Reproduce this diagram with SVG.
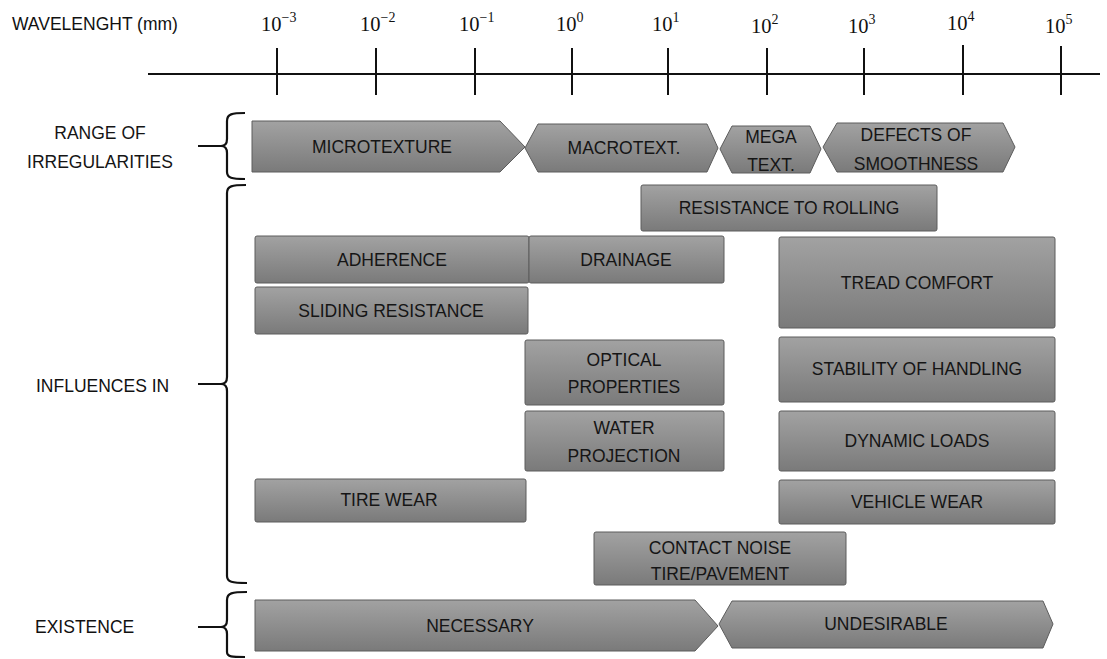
<svg xmlns="http://www.w3.org/2000/svg" width="1107" height="659" viewBox="0 0 1107 659">
<defs>
<linearGradient id="g" x1="0" y1="0" x2="0" y2="1">
<stop offset="0" stop-color="#a2a2a2"/>
<stop offset="1" stop-color="#7a7a7a"/>
</linearGradient>
</defs>
<style>
.b{fill:url(#g);stroke:#5c5c5c;stroke-width:1}
.t{font-family:"Liberation Sans",Arial,sans-serif;font-size:17.5px;fill:#151515;text-anchor:middle}
.l{font-family:"Liberation Sans",Arial,sans-serif;font-size:17.5px;fill:#111}
.n{font-family:"Liberation Serif","Times New Roman",serif;font-size:20.5px;fill:#111}
.s{font-size:14px}
.ax{stroke:#111;stroke-width:2;fill:none}
.br{stroke:#111;stroke-width:2.2;fill:none}
</style>
<rect width="1107" height="659" fill="#fff"/>
<g id="axis">
<text class="l" x="12" y="30">WAVELENGHT (mm)</text>
<line class="ax" x1="148" y1="74" x2="1100" y2="74"/>
<path class="ax" d="M277 48V95M376 48V95M475 48V95M572 48V95M668 48V95M767 48V95M864 48V95M963 45V95M1061 46V95"/>
<text class="n" x="261" y="31">10<tspan class="s" dy="-9">−3</tspan></text>
<text class="n" x="360" y="31">10<tspan class="s" dy="-9">−2</tspan></text>
<text class="n" x="459" y="31">10<tspan class="s" dy="-9">−1</tspan></text>
<text class="n" x="556" y="31">10<tspan class="s" dy="-9">0</tspan></text>
<text class="n" x="652" y="31">10<tspan class="s" dy="-9">1</tspan></text>
<text class="n" x="751" y="33">10<tspan class="s" dy="-9">2</tspan></text>
<text class="n" x="848" y="33">10<tspan class="s" dy="-9">3</tspan></text>
<text class="n" x="947" y="30">10<tspan class="s" dy="-9">4</tspan></text>
<text class="n" x="1045" y="33">10<tspan class="s" dy="-9">5</tspan></text>
</g>
<g id="connectors">
<path class="br" d="M245 113C232 113 227 114 227 121L227 139C227 144 225 146 221 146C225 146 227 148 227 153L227 172C227 178 232 179 245 179M198 146H221"/>
<path class="br" d="M246 185C232 185 227 186 227 193L227 377C227 382 225 384 221 384C225 384 227 386 227 391L227 576C227 582 232 583 247 583M198 384H221"/>
<path class="br" d="M247 592C232 592 227 593 227 600L227 620C227 625 225 627 221 627C225 627 227 629 227 634L227 652C227 657 232 657 245 657M198 627H221"/>
</g>
<g id="labels">
<text class="t" x="100" y="139">RANGE OF</text>
<text class="t" x="100" y="168">IRREGULARITIES</text>
<text class="l" x="36" y="392">INFLUENCES IN</text>
<text class="l" x="35" y="633">EXISTENCE</text>
</g>
<g id="microtexture"><polygon class="b" points="252,121 500,121 525,147 500,172 252,172"/><text class="t" x="382" y="153">MICROTEXTURE</text></g>
<g id="macrotext"><polygon class="b" points="538,124 707,124 718,148 707,172 538,172 525,148"/><text class="t" x="624" y="154">MACROTEXT.</text></g>
<g id="megatext"><polygon class="b" points="732,126 810,126 821,149 810,173 732,173 720,149"/><text class="t" x="771" y="143">MEGA</text><text class="t" x="771" y="171">TEXT.</text></g>
<g id="defects"><polygon class="b" points="837,123 1003,123 1015,147 1003,172 837,172 823,147"/><text class="t" x="916" y="141">DEFECTS OF</text><text class="t" x="916" y="170">SMOOTHNESS</text></g>
<g id="rolling"><rect class="b" x="641" y="185" width="296" height="46" rx="2"/><text class="t" x="789" y="214">RESISTANCE TO ROLLING</text></g>
<g id="adherence"><rect class="b" x="255" y="236" width="274" height="47" rx="2"/><text class="t" x="392" y="266">ADHERENCE</text></g>
<g id="drainage"><rect class="b" x="529" y="236" width="195" height="47" rx="2"/><text class="t" x="626" y="266">DRAINAGE</text></g>
<g id="sliding"><rect class="b" x="255" y="287" width="273" height="47" rx="2"/><text class="t" x="391" y="317">SLIDING RESISTANCE</text></g>
<g id="tread"><rect class="b" x="779" y="237" width="276" height="91" rx="2"/><text class="t" x="917" y="289">TREAD COMFORT</text></g>
<g id="optical"><rect class="b" x="525" y="340" width="199" height="65" rx="2"/><text class="t" x="624" y="366">OPTICAL</text><text class="t" x="624" y="393">PROPERTIES</text></g>
<g id="stability"><rect class="b" x="779" y="337" width="276" height="65" rx="2"/><text class="t" x="917" y="375">STABILITY OF HANDLING</text></g>
<g id="water"><rect class="b" x="525" y="411" width="199" height="60" rx="2"/><text class="t" x="624" y="434">WATER</text><text class="t" x="624" y="462">PROJECTION</text></g>
<g id="dynamic"><rect class="b" x="779" y="411" width="276" height="60" rx="2"/><text class="t" x="917" y="447">DYNAMIC LOADS</text></g>
<g id="tirewear"><rect class="b" x="255" y="479" width="271" height="43" rx="2"/><text class="t" x="389" y="506">TIRE WEAR</text></g>
<g id="vehiclewear"><rect class="b" x="779" y="480" width="276" height="44" rx="2"/><text class="t" x="917" y="508">VEHICLE WEAR</text></g>
<g id="noise"><rect class="b" x="594" y="532" width="252" height="53" rx="2"/><text class="t" x="720" y="554">CONTACT NOISE</text><text class="t" x="720" y="580">TIRE/PAVEMENT</text></g>
<g id="necessary"><polygon class="b" points="255,600 695,600 718,626 695,651 255,651"/><text class="t" x="480" y="632">NECESSARY</text></g>
<g id="undesirable"><polygon class="b" points="732,601 1043,601 1053,624 1043,648 732,648 719,624"/><text class="t" x="886" y="630">UNDESIRABLE</text></g>
</svg>
